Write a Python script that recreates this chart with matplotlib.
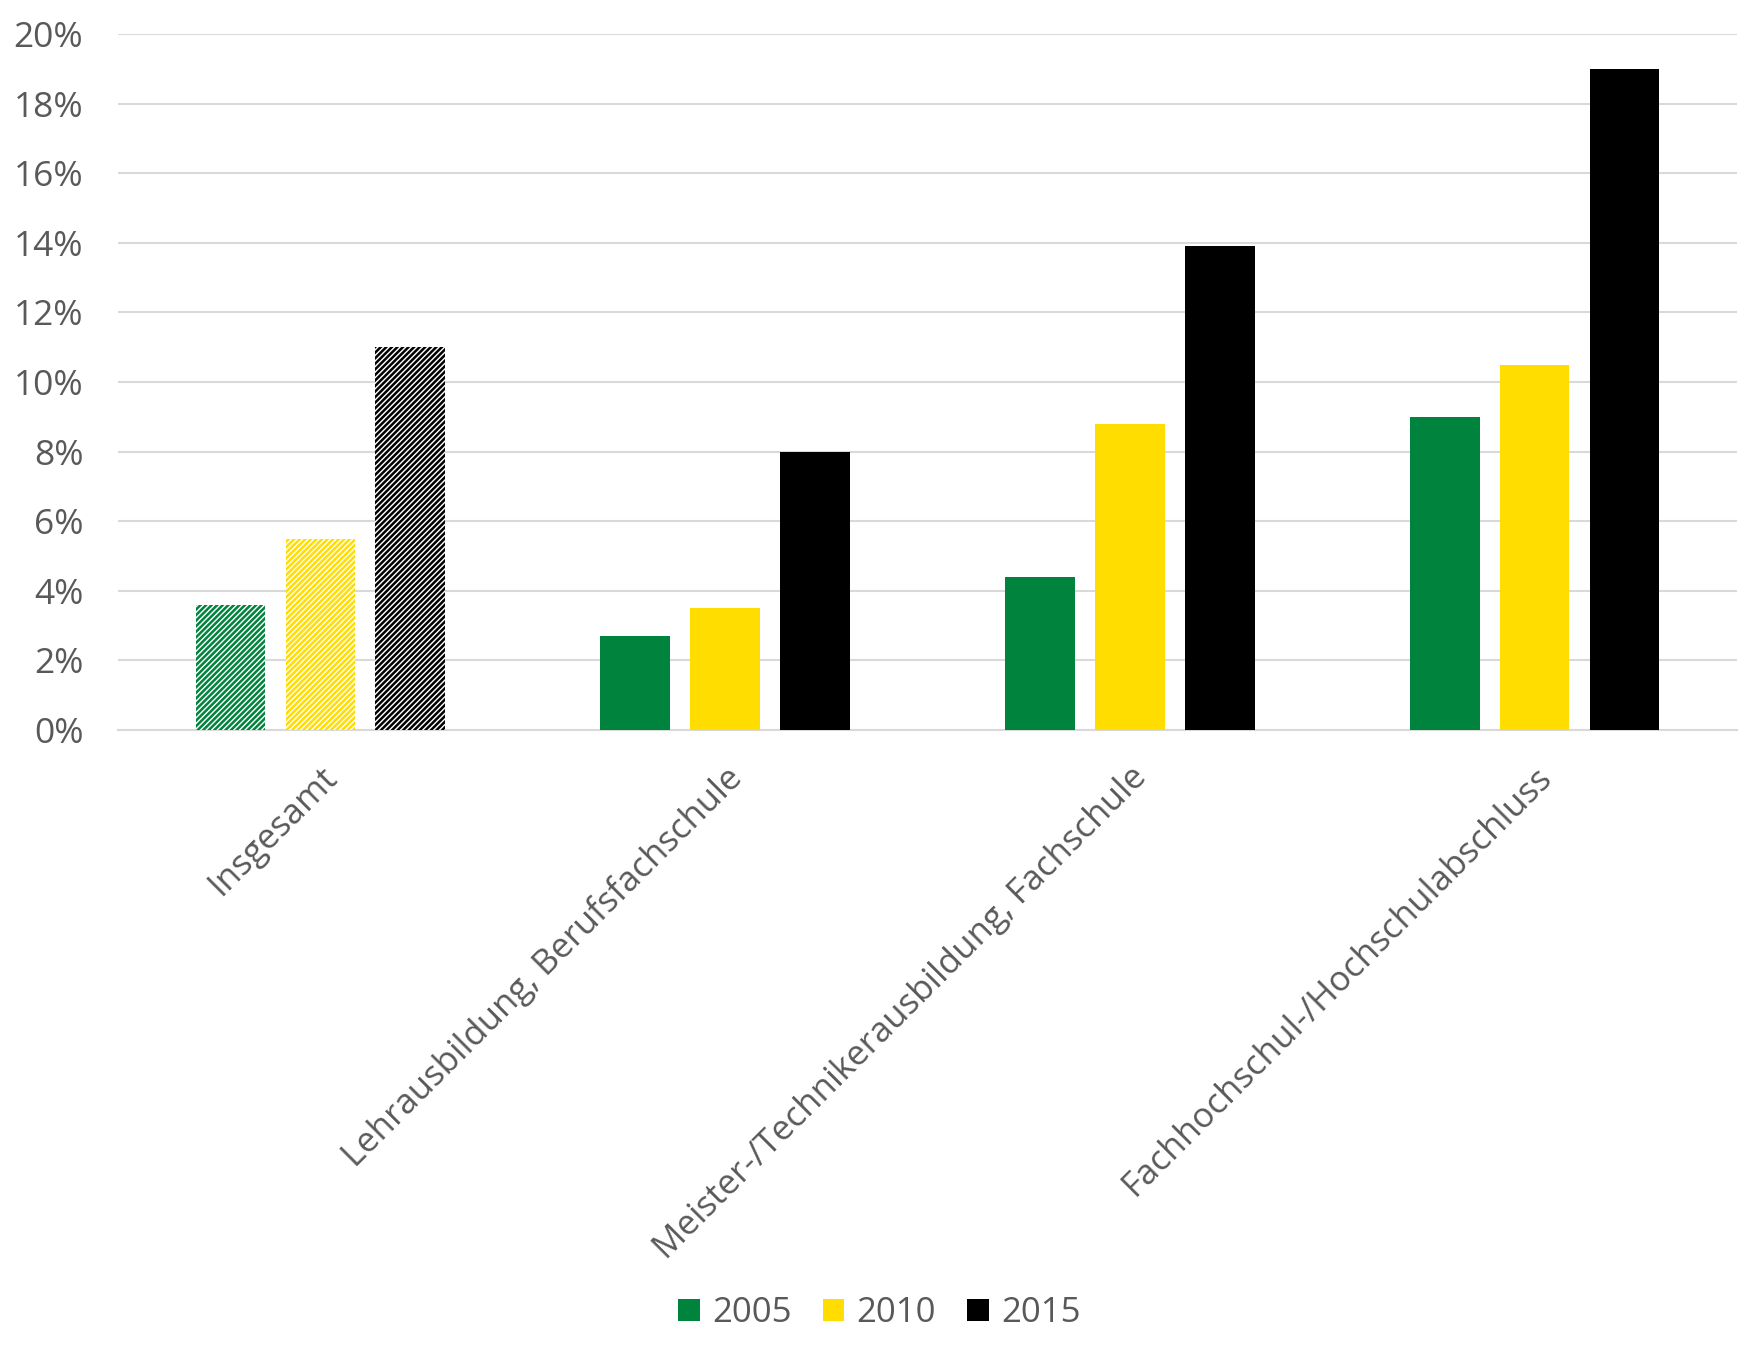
import matplotlib
matplotlib.use('Agg')
import matplotlib.pyplot as plt
import numpy as np

categories = ['Insgesamt', 'Lehrausbildung, Berufsfachschule',
              'Meister-/Technikerausbildung, Fachschule',
              'Fachhochschul-/Hochschulabschluss']
years = ['2005', '2010', '2015']
v2005 = [3.6, 2.7, 4.4, 9.0]
v2010 = [5.5, 3.5, 8.8, 10.5]
v2015 = [11.0, 8.0, 13.9, 19.0]
colors = ['#00843D', '#FFDD00', '#000000']

plt.rcParams['font.family'] = ['Open Sans', 'DejaVu Sans']
plt.rcParams['hatch.linewidth'] = 1.8

fig = plt.figure(figsize=(17.59, 13.57), dpi=100)
ax = fig.add_axes([118 / 1759, 1 - 730 / 1357, (1737 - 118) / 1759, (730 - 34) / 1357])

x = np.arange(len(categories))
w = 0.172
step = 0.222
series = [v2005, v2010, v2015]
for i, (vals, c, yr) in enumerate(zip(series, colors, years)):
    pos = x + (i - 1) * step
    # first group ("Insgesamt") is hatched, others solid
    ax.bar(pos[0], vals[0], width=w, facecolor='white', edgecolor=c,
           hatch='//////', linewidth=0, zorder=3)
    ax.bar(pos[1:], vals[1:], width=w, color=c, zorder=3, label=yr)

ax.set_xlim(-0.5, len(categories) - 0.5)
ax.set_ylim(0, 20)
ax.set_yticks(np.arange(0, 21, 2))
ax.set_yticklabels([f'{t}%' for t in range(0, 21, 2)])
ax.yaxis.grid(True, color='#D9D9D9', linewidth=1.5, zorder=0)
ax.set_axisbelow(True)
for s in ['top', 'right', 'left']:
    ax.spines[s].set_visible(False)
ax.spines['bottom'].set_color('#D9D9D9')
ax.spines['bottom'].set_linewidth(1.5)
ax.tick_params(axis='both', length=0, labelsize=25.5, colors='#595959')
ax.tick_params(axis='y', pad=25)
ax.tick_params(axis='x', pad=22, labelsize=25)
ax.set_xticks(x)
ax.set_xticklabels(categories, rotation=45, ha='right', rotation_mode='anchor')

leg = fig.legend(loc='center', bbox_to_anchor=(0.5, 1 - 1313 / 1357), ncol=3,
                 frameon=False, fontsize=25, handlelength=0.62, handleheight=0.62,
                 columnspacing=0.9, handletextpad=0.35)
for t in leg.get_texts():
    t.set_color('#595959')

fig.savefig('out.png', dpi=100)
